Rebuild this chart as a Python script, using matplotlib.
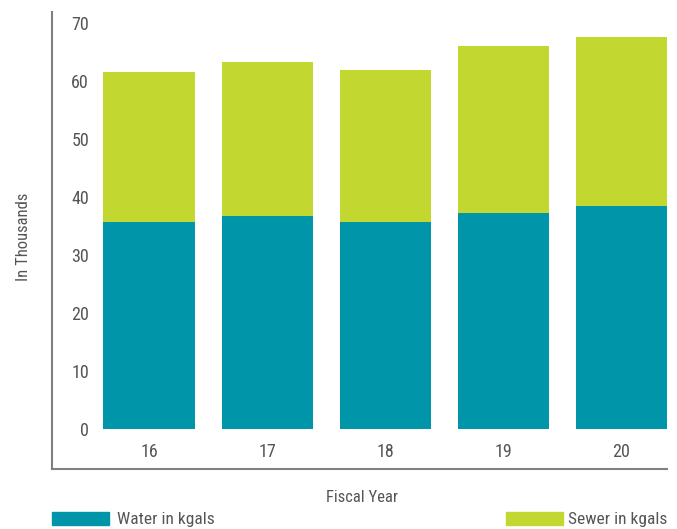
import matplotlib.pyplot as plt
from matplotlib.patches import Patch

# fiscal years and consumption (thousands of kgals)
years = ['16', '17', '18', '19', '20']
water = [35.7, 36.7, 35.7, 37.2, 38.4]
sewer_total = [61.5, 63.3, 61.9, 66.0, 67.6]
sewer = [t - w for t, w in zip(sewer_total, water)]

water_color = '#0095a8'
sewer_color = '#c2d72f'
text_color = '#555559'

plt.rcParams['font.family'] = ['Roboto Condensed', 'DejaVu Sans']

fig = plt.figure(figsize=(6.77, 5.29), dpi=100)
ax = fig.add_axes([52 / 677, 60 / 529, 615 / 677, 457 / 529])

x = range(len(years))
ax.bar(x, water, width=0.772, color=water_color)
ax.bar(x, sewer, width=0.772, bottom=water, color=sewer_color)

ax.set_xlim(-0.822, 4.386)
ax.set_ylim(-6.9, 71.9)

# y labels sit inside the frame, right of the spine
ax.set_yticks(range(0, 71, 10))
ax.tick_params(axis='y', length=0, pad=-26.6, labelsize=13, labelcolor=text_color)
for lab in ax.get_yticklabels():
    lab.set_horizontalalignment('right')

# year labels under the bars, above the bottom spine
ax.set_xticks([])
for i, yr in enumerate(years):
    ax.text(i, -4.0, yr, ha='center', va='center', fontsize=13, color=text_color)

for side in ['top', 'right']:
    ax.spines[side].set_visible(False)
for side in ['left', 'bottom']:
    ax.spines[side].set_color('#808080')
    ax.spines[side].set_linewidth(1.5)

fig.text(23 / 677, 1 - 237 / 529, 'In Thousands', rotation=90, ha='center', va='center',
         fontsize=12, color=text_color)
fig.text(362 / 677, 1 - 497 / 529, 'Fiscal Year', ha='center', va='center',
         fontsize=12, color=text_color)

# legend entries along the bottom edge
leg_kw = dict(loc='center left', frameon=False, fontsize=12.5, handlelength=3.28,
              handleheight=0.75, borderpad=0, borderaxespad=0, labelcolor=text_color)
fig.legend(handles=[Patch(color=water_color, label='Water in kgals')],
           bbox_to_anchor=(52 / 677, 1 - 519.5 / 529), handletextpad=0.46, **leg_kw)
fig.legend(handles=[Patch(color=sewer_color, label='Sewer in kgals')],
           bbox_to_anchor=(506 / 677, 1 - 519.5 / 529), handletextpad=0.29, **leg_kw)

plt.savefig('out.png', dpi=100)
